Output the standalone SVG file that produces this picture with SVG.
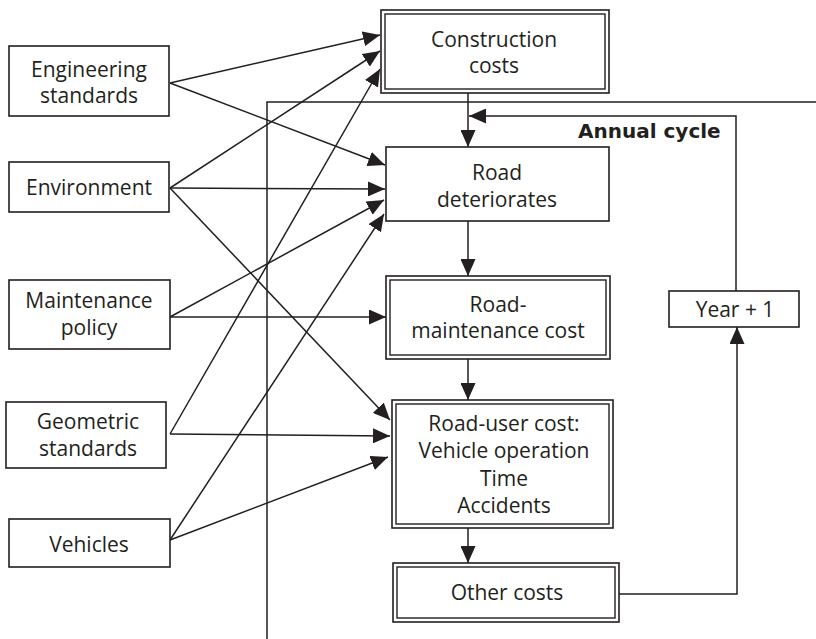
<svg xmlns="http://www.w3.org/2000/svg" width="816" height="639" viewBox="0 0 816 639">
<style>
.box{fill:#fff;stroke:#231f20;stroke-width:1.6}
.dbl{fill:none;stroke:#231f20;stroke-width:1.4}
.t{font-family:"Open Sans","Liberation Sans",sans-serif;font-size:21px;fill:#231f20;text-anchor:middle}
.b{font-family:"DejaVu Sans","Liberation Sans",sans-serif;font-size:20px;font-weight:bold;fill:#231f20}
.ln{fill:none;stroke:#231f20;stroke-width:1.5}
.ar{fill:none;stroke:#231f20;stroke-width:1.5;marker-end:url(#ah)}
</style>
<defs>
<marker id="ah" viewBox="0 0 17 15" markerWidth="17" markerHeight="15" refX="17" refY="7.5" orient="auto" markerUnits="userSpaceOnUse">
<path d="M0,0 L17,7.5 L0,15 z" fill="#231f20"/>
</marker>
</defs>
<rect width="816" height="639" fill="#fff"/>

<g id="connectors">
<polyline class="ln" points="267,639 267,102 816,102"/>
<line class="ar" x1="170" y1="83" x2="380" y2="35"/>
<line class="ar" x1="170" y1="83" x2="385" y2="165"/>
<line class="ar" x1="170" y1="188" x2="380" y2="51"/>
<line class="ar" x1="170" y1="188" x2="385" y2="189"/>
<line class="ar" x1="170" y1="188" x2="390" y2="420"/>
<line class="ar" x1="170" y1="317" x2="384" y2="200"/>
<line class="ar" x1="170" y1="317" x2="386" y2="317"/>
<line class="ar" x1="170" y1="434" x2="380" y2="69"/>
<line class="ar" x1="170" y1="434" x2="390" y2="436"/>
<line class="ar" x1="170" y1="540" x2="384" y2="214"/>
<line class="ar" x1="170" y1="540" x2="388" y2="457"/>
<line class="ar" x1="468" y1="93" x2="468" y2="147"/>
<line class="ar" x1="468" y1="221" x2="468" y2="276"/>
<line class="ar" x1="468" y1="359" x2="468" y2="400"/>
<line class="ar" x1="468" y1="528" x2="468" y2="563"/>
<polyline class="ar" points="619,594 737,594 737,327"/>
<polyline class="ar" points="736,291 736,116 469,116"/>
</g>

<g id="eng">
<rect class="box" x="9" y="46" width="160" height="70"/>
<text class="t" x="89" y="77">Engineering</text>
<text class="t" x="89" y="103">standards</text>
</g>
<g id="env">
<rect class="box" x="9" y="162" width="160" height="50"/>
<text class="t" x="89" y="195">Environment</text>
</g>
<g id="maint">
<rect class="box" x="9" y="280" width="161" height="69"/>
<text class="t" x="89" y="308">Maintenance</text>
<text class="t" x="89" y="335">policy</text>
</g>
<g id="geo">
<rect class="box" x="6" y="402" width="160" height="66"/>
<text class="t" x="88" y="429">Geometric</text>
<text class="t" x="88" y="456">standards</text>
</g>
<g id="veh">
<rect class="box" x="9" y="519" width="161" height="48"/>
<text class="t" x="89" y="552">Vehicles</text>
</g>

<g id="con">
<rect class="box" x="381" y="10" width="228" height="83"/>
<rect class="dbl" x="385" y="14" width="220" height="75"/>
<text class="t" x="494" y="47">Construction</text>
<text class="t" x="494" y="73">costs</text>
</g>
<g id="rd">
<rect class="box" x="386" y="147" width="223" height="74"/>
<text class="t" x="497" y="180">Road</text>
<text class="t" x="497" y="207">deteriorates</text>
</g>
<g id="rm">
<rect class="box" x="386" y="276" width="224" height="83"/>
<rect class="dbl" x="390" y="280" width="216" height="75"/>
<text class="t" x="498" y="312">Road-</text>
<text class="t" x="498" y="338">maintenance cost</text>
</g>
<g id="ru">
<rect class="box" x="392" y="400" width="221" height="128"/>
<rect class="dbl" x="396" y="404" width="213" height="120"/>
<text class="t" x="504" y="431">Road-user cost:</text>
<text class="t" x="504" y="458">Vehicle operation</text>
<text class="t" x="504" y="486">Time</text>
<text class="t" x="504" y="513">Accidents</text>
</g>
<g id="oc">
<rect class="box" x="393" y="563" width="226" height="59"/>
<rect class="dbl" x="397" y="567" width="218" height="51"/>
<text class="t" x="507" y="600">Other costs</text>
</g>
<g id="yr">
<rect class="box" x="669" y="291" width="130" height="36"/>
<text class="t" x="735" y="317">Year + 1</text>
</g>
<g id="annual">
<text class="b" x="578" y="138">Annual cycle</text>
</g>
</svg>
